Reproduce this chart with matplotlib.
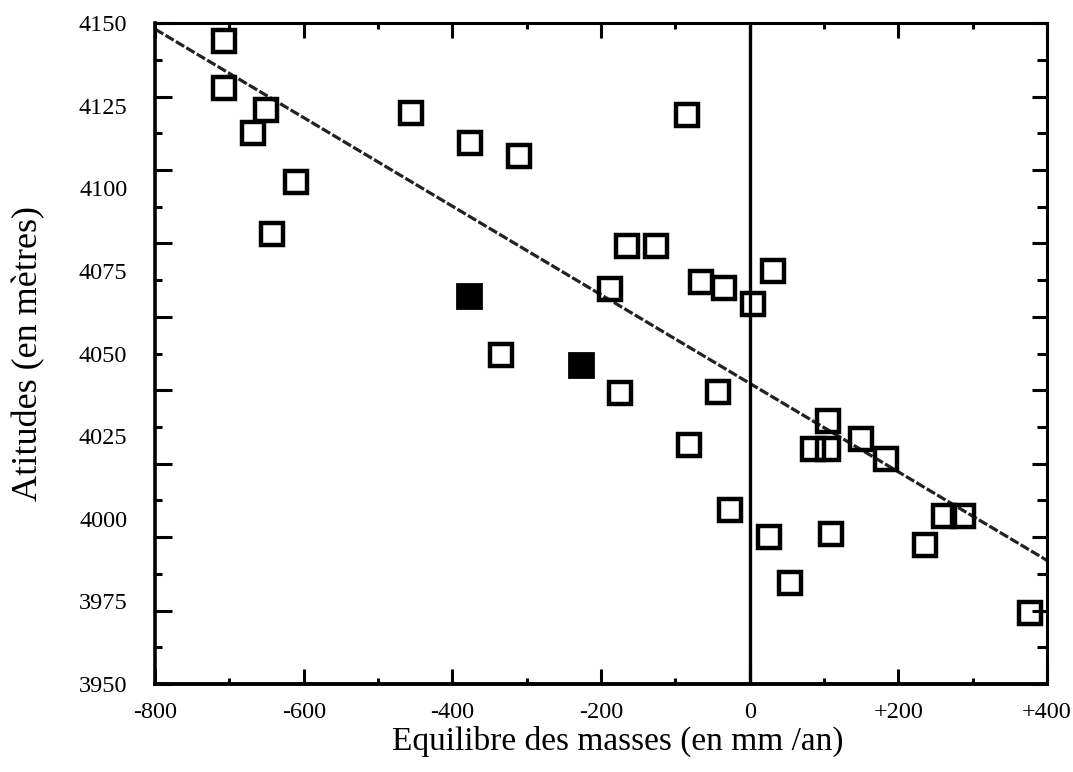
import numpy as np
import matplotlib
matplotlib.use('Agg')
import matplotlib.pyplot as plt

# Mass balance (mm/yr) vs altitude (m), open squares
open_x = [-707, -707, -651, -668, -611, -642, -456, -376, -311, -334,
          -188, -165, -126, -174, -85, -66, -35, -82, -43, -26,
          5, 31, 26, 54, 105, 85, 106, 150, 184, 109,
          236, 262, 287, 377]
open_y = [4144.6, 4130.5, 4123.8, 4116.9, 4101.9, 4086.2, 4122.9, 4113.6, 4109.7, 4049.5,
          4069.4, 4082.6, 4082.6, 4038.1, 4122.3, 4071.8, 4069.7, 4022.2, 4038.4, 4002.6,
          4064.9, 4075.1, 3994.5, 3980.7, 4029.7, 4021.0, 4021.0, 4024.0, 4018.0, 3995.4,
          3992.1, 4000.8, 4000.8, 3971.4]

# filled squares
filled_x = [-377, -227]
filled_y = [4067.3, 4046.5]

# regression line
fit_intercept = 4041.0
fit_slope = -0.134

x_ticks = [-800, -600, -400, -200, 0, 200, 400]
x_ticklabels = ['-800', '-600', '-400', '-200', '0', '+200', '+400']
y_ticks = [3950, 3975, 4000, 4025, 4050, 4075, 4100, 4125, 4150]

plt.rcParams['font.family'] = ['Liberation Serif', 'DejaVu Serif']

fig = plt.figure(figsize=(10.73, 7.72), dpi=100)
ax = fig.add_axes([0.1445, 0.114, 0.8313, 0.856])

ax.axline((0, fit_intercept), slope=fit_slope, color='#222222', lw=2.3,
          linestyle=(0, (3, 0.8)), zorder=2)
ax.axvline(0, color='black', lw=2.4, zorder=2)

ax.plot(open_x, open_y, 's', ms=16, mew=3.2, mfc='none', mec='black', zorder=3)
ax.plot(filled_x, filled_y, 's', ms=17, mew=2, mfc='black', mec='black', zorder=3)

ax.set_xlim(-800, 400)
ax.set_ylim(3950, 4150)

# x ticks
ax.set_xticks(x_ticks)
ax.set_xticklabels(x_ticklabels)
ax.set_xticks(np.arange(-700, 400, 200), minor=True)
ax.tick_params(axis='x', which='major', direction='in', length=11, width=2.2,
               top=True, labelsize=17.5, pad=13)
ax.tick_params(axis='x', which='minor', direction='in', length=4, width=2.2, top=True)

# y labels (ticks of the original do not line up with labels)
ax.set_yticks(y_ticks)
ax.tick_params(axis='y', which='major', length=0, labelsize=17.5, pad=20)

tick_major = np.linspace(3950, 4150, 10)
tick_minor = (tick_major[:-1] + tick_major[1:]) / 2

sec_l = ax.secondary_yaxis('left')
sec_l.set_yticks(tick_major)
sec_l.set_yticks(tick_minor, minor=True)
sec_l.set_yticklabels([])
sec_l.tick_params(which='major', direction='in', length=12, width=2.2)
sec_l.tick_params(which='minor', direction='in', length=5, width=2.2)
sec_l.spines['left'].set_visible(False)

sec_r = ax.secondary_yaxis('right')
sec_r.set_yticks(tick_major)
sec_r.set_yticks(tick_minor, minor=True)
sec_r.set_yticklabels([])
sec_r.tick_params(which='major', direction='in', length=11, width=2.2)
sec_r.tick_params(which='minor', direction='in', length=7, width=2.2)
sec_r.spines['right'].set_visible(False)

for side, lw in [('left', 2.6), ('bottom', 2.8), ('top', 2.2), ('right', 2.2)]:
    ax.spines[side].set_linewidth(lw)

ax.set_xlabel('Equilibre des masses (en mm /an)', fontsize=24, labelpad=2)
ax.xaxis.label.set_x(0.519)
ax.set_ylabel('Atitudes (en mètres)', fontsize=26, labelpad=24)

fig.savefig('out.png', dpi=100)
